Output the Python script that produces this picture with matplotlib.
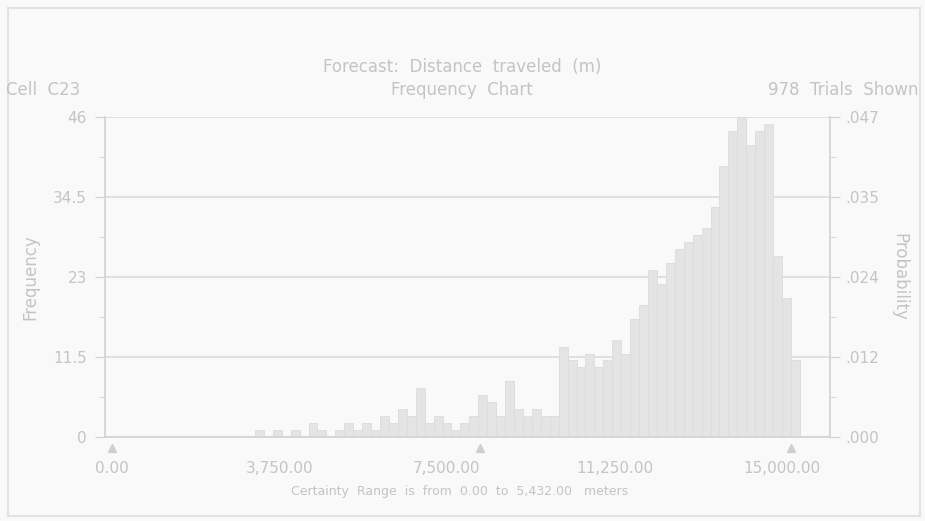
import numpy as np
import matplotlib.pyplot as plt
from matplotlib.patches import Rectangle

# forecast histogram: trials per 200 m bin, first bin starts at 3,000 m
bin_start = 3000
bin_width = 200
counts = [0, 1, 0, 1, 0,
          1, 0, 2, 1, 0,
          1, 2, 1, 2, 1,
          3, 2, 4, 3, 7,
          2, 3, 2, 1, 2,
          3, 6, 5, 3, 8,
          4, 3, 4, 3, 3,
          13, 11, 10, 12, 10,
          11, 14, 12, 17, 19,
          24, 22, 25, 27, 28,
          29, 30, 33, 39, 44,
          46, 42, 44, 45, 26,
          20, 11]
trials = 978

freq_ticks = [0, 11.5, 23, 34.5, 46]
freq_labels = ["0", "11.5", "23", "34.5", "46"]
prob_labels = [".000", ".012", ".024", ".035", ".047"]
x_ticks = [0, 3750, 7500, 11250, 15000]
x_labels = ["0.00", "3,750.00", "7,500.00", "11,250.00", "15,000.00"]
grabbers = [0, 8240, 15200]

txt = '#c4c4c4'
line = '#d2d2d2'
bg = '#f9f9f9'

plt.rcParams['font.family'] = ['DejaVu Sans']

fig = plt.figure(figsize=(9.25, 5.21), dpi=100, facecolor=bg)
ax = fig.add_axes([105/925, 84/521, 725/925, 320/521], facecolor=bg)

edges = bin_start + bin_width*np.arange(len(counts))
ax.bar(edges, counts, width=bin_width, align='edge', color='#e4e4e4',
       edgecolor='#dcdcdc', linewidth=0.6, zorder=2)

ax.set_xlim(-157, 16075)
ax.set_ylim(0, 46)
ax.set_yticks(freq_ticks)
ax.set_yticklabels(freq_labels)
ax.set_yticks([5.75, 17.25, 28.75, 40.25], minor=True)
ax.set_xticks(x_ticks)
ax.set_xticklabels(x_labels)
ax.yaxis.grid(True, color='#dedede', linewidth=1.3, zorder=0)
ax.set_axisbelow(True)

ax.spines['top'].set_visible(False)
for s in ['left', 'right', 'bottom']:
    ax.spines[s].set_color(line)
    ax.spines[s].set_linewidth(1.2)

ax.tick_params(axis='y', which='major', length=7, color=line, labelcolor=txt,
               labelsize=11, pad=6)
ax.tick_params(axis='y', which='minor', length=4, color=line)
ax.tick_params(axis='x', length=0, labelcolor=txt, labelsize=11, pad=17)

ax2 = ax.twinx()
ax2.set_ylim(0, 46/trials)
ax2.set_yticks([t/trials for t in freq_ticks])
ax2.set_yticklabels(prob_labels)
ax2.set_yticks([t/trials for t in [5.75, 17.25, 28.75, 40.25]], minor=True)
for s in ax2.spines.values():
    s.set_visible(False)
ax2.tick_params(axis='y', which='major', length=7, color=line, labelcolor=txt,
                labelsize=11, pad=4)
ax2.tick_params(axis='y', which='minor', length=4, color=line)

# certainty grabbers under the axis
ax.plot(grabbers, [-1.6]*len(grabbers), linestyle='none', marker='^',
        markersize=6, color='#cfcfcf', clip_on=False)

ax.set_ylabel('Frequency', color=txt, fontsize=12, labelpad=10)
ax2.set_ylabel('Probability', color=txt, fontsize=12, labelpad=8, rotation=270,
               va='bottom')

fig.text(0.5, 1-67/521, 'Forecast:  Distance  traveled  (m)', ha='center',
         va='center', fontsize=12, color=txt)
fig.text(6/925, 1-90/521, 'Cell  C23', ha='left', va='center', fontsize=12, color=txt)
fig.text(462/925, 1-90/521, 'Frequency  Chart', ha='center', va='center',
         fontsize=12, color=txt)
fig.text(918/925, 1-90/521, '978  Trials  Shown', ha='right', va='center',
         fontsize=12, color=txt)
fig.text(460/925, 1-492/521, 'Certainty  Range  is  from  0.00  to  5,432.00   meters',
         ha='center', va='center', fontsize=9, color=txt)

# outer frame
fig.add_artist(Rectangle((8/925, 5/521), 912/925, 508/521, transform=fig.transFigure,
                         fill=False, edgecolor='#e2e2e2', linewidth=1.5))

fig.savefig('out.png', dpi=100, facecolor=bg)
